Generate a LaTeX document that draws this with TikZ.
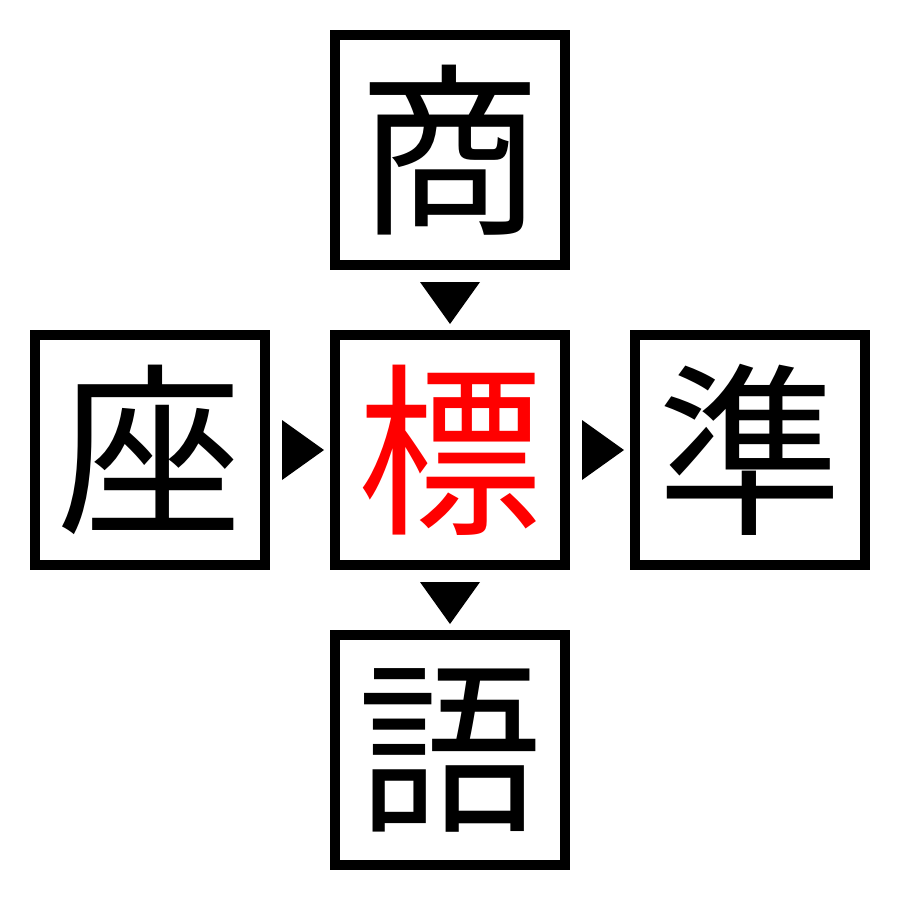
\documentclass[tikz,border=0pt]{standalone}
\usepackage{fontspec}
\newfontfamily\cjk{Noto Sans CJK JP}
\begin{document}
\begin{tikzpicture}[x=1pt,y=-1pt,
  kbox/.style={draw=black,line width=10pt,minimum size=230pt,inner sep=0pt,fill=white,
    font=\cjk\fontsize{185}{185}\selectfont},
  tri/.style={fill=black}]
\useasboundingbox (0,0) rectangle (900,900);
\node[kbox] (top) at (450,150) {商};
\node[kbox] (left) at (150,450) {座};
\node[kbox,text=red] (center) at (450,450) {標};
\node[kbox] (right) at (750,450) {準};
\node[kbox] (bottom) at (450,750) {語};
% triangles
\fill[tri] (420,282) -- (480,282) -- (450,324) -- cycle;
\fill[tri] (282,420) -- (282,480) -- (324,450) -- cycle;
\fill[tri] (582,420) -- (582,480) -- (624,450) -- cycle;
\fill[tri] (420,582) -- (480,582) -- (450,624) -- cycle;
\end{tikzpicture}
\end{document}
